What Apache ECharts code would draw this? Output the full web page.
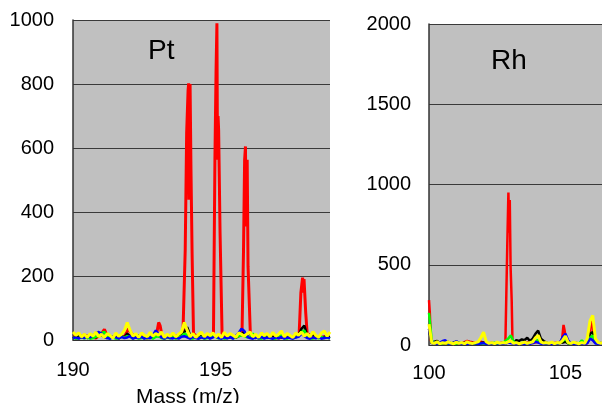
<!DOCTYPE html>
<html>
<head>
<meta charset="utf-8">
<script src="https://cdn.jsdelivr.net/npm/echarts@6/dist/echarts.min.js"></script>
<style>html,body{margin:0;padding:0;background:#fff}#c{width:602px;height:403px}</style>
</head>
<body>
<div id="c"></div>
<script>
// ---------- Pt panel data ----------
var ptMass = [190.0,190.1,190.2,190.3,190.4,190.5,190.6,190.7,190.8,190.9,
  191.0,191.1,191.2,191.3,191.4,191.5,191.6,191.7,191.8,191.9,
  192.0,192.1,192.2,192.3,192.4,192.5,192.6,192.7,192.8,192.9,
  193.0,193.1,193.2,193.3,193.4,193.5,193.6,193.7,193.8,193.9,
  194.0,194.1,194.2,194.3,194.4,194.5,194.6,194.7,194.8,194.9,
  195.0,195.1,195.2,195.3,195.4,195.5,195.6,195.7,195.8,195.9,
  196.0,196.1,196.2,196.3,196.4,196.5,196.6,196.7,196.8,196.9,
  197.0,197.1,197.2,197.3,197.4,197.5,197.6,197.7,197.8,197.9,
  198.0,198.1,198.2,198.3,198.4,198.5,198.6,198.7,198.8,198.9,
  199.0];
var ptYellow = [25,15,22,10,18,8,20,12,25,10,
  18,8,20,14,6,22,12,18,30,55,
  30,12,20,8,22,15,10,24,12,20,
  15,25,8,18,12,22,10,18,25,55,
  30,10,20,8,18,24,10,20,14,22,
  10,18,8,24,12,20,15,8,22,18,
  12,20,25,10,18,8,22,14,20,10,
  24,12,18,28,10,20,14,8,22,15,
  25,12,20,10,26,15,8,22,28,12,
  25];
var ptBlack = [10,5,12,8,15,6,10,14,8,12,
  15,10,6,12,8,10,5,12,8,20,
  12,6,10,14,8,6,12,8,10,15,
  12,8,6,10,14,8,6,10,15,25,
  40,15,8,10,6,12,8,10,6,12,
  10,8,12,6,10,8,12,6,14,20,
  25,12,8,10,6,12,8,10,14,8,
  10,6,12,8,10,6,12,8,10,15,
  35,45,15,10,20,8,12,6,10,8,
  10];
var ptBlue = [5,8,4,10,6,12,8,15,22,25,
  20,10,6,4,12,8,5,10,6,8,
  12,4,8,6,10,4,8,5,15,30,
  18,8,4,10,6,5,8,4,10,12,
  8,4,10,6,4,8,5,10,4,8,
  12,6,4,8,5,10,4,12,22,35,
  28,10,6,4,8,5,10,4,8,6,
  4,8,5,10,4,8,6,4,8,10,
  20,12,6,4,8,5,10,4,6,8,
  5];
var ptGreen = [8,4,6,10,5,8,4,6,10,15,
  22,25,10,5,8,4,6,10,8,12,
  10,5,8,4,6,10,5,8,4,10,
  12,6,4,8,5,10,4,8,12,20,
  15,6,4,8,5,10,4,6,8,12,
  10,5,8,4,6,10,5,8,12,15,
  12,8,10,20,8,5,4,10,6,8,
  5,4,8,15,6,4,10,5,8,15,
  25,30,10,6,4,8,5,10,6,8,
  4];
var ptRed = [[190.0,12],[190.2,8],[190.4,15],[190.6,10],[190.8,6],[191.0,20],[191.1,33],[191.2,12],[191.4,8],[191.6,14],[191.8,10],[191.95,35],[192.05,20],[192.2,8],[192.4,12],[192.6,6],[192.8,10],[192.92,15],[193.0,55],[193.05,45],[193.12,12],[193.3,8],[193.5,12],[193.7,15],
  [193.85,20],[193.88,25],[193.93,282],[193.98,647],[194.03,780],[194.05,802],[194.06,438],[194.08,700],[194.10,800],[194.13,542],[194.17,273],[194.22,20],
  [194.4,8],[194.6,12],[194.8,10],[194.88,15],
  [194.92,25],[194.97,563],[195.01,844],[195.04,990],[195.06,563],[195.08,700],[195.10,656],[195.15,335],[195.22,20],
  [195.4,10],[195.6,8],[195.8,12],[195.88,15],
  [195.92,25],[195.97,273],[196.01,563],[196.04,605],[196.06,355],[196.08,480],[196.10,563],[196.13,230],[196.21,20],
  [196.4,10],[196.6,8],[196.8,12],[197.0,10],[197.2,6],[197.4,12],[197.6,8],[197.8,10],
  [197.92,20],[197.98,148],[198.04,195],[198.07,148],[198.09,190],[198.15,85],[198.2,20],
  [198.4,12],[198.6,8],[198.8,10],[199.0,8]];

// ---------- Rh panel data ----------
var rhMass = [100.0,100.1,100.2,100.3,100.4,100.5,100.6,100.7,100.8,100.9,
  101.0,101.1,101.2,101.3,101.4,101.5,101.6,101.7,101.8,101.9,
  102.0,102.1,102.2,102.3,102.4,102.5,102.6,102.7,102.8,102.9,
  103.0,103.1,103.2,103.3,103.4,103.5,103.6,103.7,103.8,103.9,
  104.0,104.1,104.2,104.3,104.4,104.5,104.6,104.7,104.8,104.9,
  105.0,105.1,105.2,105.3,105.4,105.5,105.6,105.7,105.8,105.9,
  106.0,106.1,106.2,106.3,106.4,106.5];
var rhYellow = [130,15,10,20,8,15,10,20,12,8,
  18,10,15,8,20,12,10,15,20,45,
  80,20,10,15,8,18,10,15,12,20,
  25,10,15,8,12,18,10,15,20,45,
  60,20,12,15,10,18,8,15,12,30,
  55,15,10,18,12,8,15,10,40,150,
  185,40,15,10,18,12];
var rhBlack = [100,10,20,25,10,15,8,20,10,15,
  12,8,10,15,8,10,12,8,10,12,
  15,8,10,12,8,10,8,12,10,20,
  15,12,30,25,35,30,45,25,40,70,
  90,40,25,15,10,12,8,10,12,15,
  20,10,8,12,10,8,12,10,20,70,
  80,20,10,12,8,10];
var rhBlue = [100,20,10,8,15,25,30,10,8,12,
  25,10,8,12,6,10,8,12,6,10,
  12,8,6,10,8,12,6,10,8,15,
  12,8,6,10,8,6,10,8,12,20,
  15,8,6,10,8,6,10,8,15,50,
  70,30,10,8,6,10,8,6,10,40,
  30,10,8,6,10,8];
var rhGreen = [200,30,10,12,8,10,15,8,10,12,
  8,15,10,8,12,10,8,10,12,8,
  10,12,8,10,15,8,10,12,25,40,
  60,20,10,8,12,10,8,12,15,25,
  30,12,8,10,8,12,10,8,15,25,
  40,12,8,10,12,8,30,10,20,45,
  60,15,10,8,12,10];
var rhRed = [[100.0,280],[100.03,200],[100.07,25],[100.2,15],[100.4,10],[100.6,12],[100.8,8],[101.0,15],[101.2,10],[101.4,25],[101.5,20],[101.7,12],[101.9,20],[102.1,10],[102.3,12],[102.5,8],[102.7,15],
  [102.80,15],[102.83,20],[102.87,634],[102.91,950],[102.94,700],[102.96,904],[102.99,488],[103.03,280],[103.06,15],
  [103.2,12],[103.4,10],[103.6,15],[103.8,12],[104.0,20],[104.2,10],[104.4,8],[104.6,12],[104.8,15],[104.88,40],[104.93,125],[104.97,90],[105.03,20],[105.2,10],[105.4,12],[105.6,8],[105.8,12],[105.88,40],[105.93,120],[105.96,170],[106.0,140],[106.05,20],[106.2,10],[106.4,12],[106.5,8]];

var ptXTicks = [190, 195];
var rhXTicks = [100, 105];

function zip(xs, ys) { return xs.map(function (x, i) { return [x, ys[i]]; }); }

var FONT = "'Liberation Sans', Arial, sans-serif";
var colors = { red: '#ff0000', black: '#000000', green: '#00ff00', blue: '#0000ff', yellow: '#ffff00' };

function mk(name, data, color, gi, w) {
  return {
    name: name, type: 'line', xAxisIndex: gi, yAxisIndex: gi, data: data,
    showSymbol: false, symbol: 'none', animation: false,
    lineStyle: { color: color, width: w }, itemStyle: { color: color }
  };
}

var chart = echarts.init(document.getElementById('c'), null, { renderer: 'canvas' });
var axisLabelStyle = { color: '#000', fontFamily: FONT, fontSize: 20 };
function plain(v) { return String(v); }

chart.setOption({
  animation: false,
  backgroundColor: '#ffffff',
  title: [
    { text: 'Pt', left: 143, top: 32, textStyle: { fontFamily: FONT, fontSize: 28, fontWeight: 'normal', color: '#000' } },
    { text: 'Rh', left: 486, top: 42, textStyle: { fontFamily: FONT, fontSize: 28, fontWeight: 'normal', color: '#000' } },
    { text: 'Mass (m/z)', left: 131, top: 382, textStyle: { fontFamily: FONT, fontSize: 21, fontWeight: 'normal', color: '#000' } }
  ],
  grid: [
    { left: 73, top: 20, width: 257, height: 320, show: true, backgroundColor: '#c0c0c0', borderWidth: 0 },
    { left: 429, top: 24, width: 173, height: 321, show: true, backgroundColor: '#c0c0c0', borderWidth: 0 }
  ],
  xAxis: [
    { gridIndex: 0, type: 'value', min: 190, max: 199, interval: 5,
      axisLine: { show: true, lineStyle: { color: '#333', width: 1 } }, axisTick: { show: false },
      splitLine: { show: false },
      axisLabel: Object.assign({ margin: 20, showMaxLabel: false,
        formatter: function (v) { return ptXTicks.indexOf(v) >= 0 ? String(v) : ''; } }, axisLabelStyle) },
    { gridIndex: 1, type: 'value', min: 100, max: 106.34, interval: 5,
      axisLine: { show: true, lineStyle: { color: '#333', width: 1 } }, axisTick: { show: false },
      splitLine: { show: false },
      axisLabel: Object.assign({ margin: 18, showMaxLabel: false,
        formatter: function (v) { return rhXTicks.indexOf(v) >= 0 ? String(v) : ''; } }, axisLabelStyle) }
  ],
  yAxis: [
    { gridIndex: 0, type: 'value', min: 0, max: 1000, interval: 200,
      axisLine: { show: true, lineStyle: { color: '#333', width: 1.5 } }, axisTick: { show: false },
      splitLine: { show: true, lineStyle: { color: '#3a3a3a', width: 1 } },
      axisLabel: Object.assign({ margin: 19, formatter: plain }, axisLabelStyle) },
    { gridIndex: 1, type: 'value', min: 0, max: 2000, interval: 500,
      axisLine: { show: true, lineStyle: { color: '#333', width: 1.5 } }, axisTick: { show: false },
      splitLine: { show: true, lineStyle: { color: '#3a3a3a', width: 1 } },
      axisLabel: Object.assign({ margin: 18, formatter: plain }, axisLabelStyle) }
  ],
  series: [
    mk('Pt red', ptRed, colors.red, 0, 3),
    mk('Pt black', zip(ptMass, ptBlack), colors.black, 0, 2.5),
    mk('Pt green', zip(ptMass, ptGreen), colors.green, 0, 2.5),
    mk('Pt blue', zip(ptMass, ptBlue), colors.blue, 0, 2.5),
    mk('Pt yellow', zip(ptMass, ptYellow), colors.yellow, 0, 3),
    mk('Rh red', rhRed, colors.red, 1, 2.5),
    mk('Rh black', zip(rhMass, rhBlack), colors.black, 1, 2.5),
    mk('Rh green', zip(rhMass, rhGreen), colors.green, 1, 2.5),
    mk('Rh blue', zip(rhMass, rhBlue), colors.blue, 1, 2.5),
    mk('Rh yellow', zip(rhMass, rhYellow), colors.yellow, 1, 3)
  ]
});
</script>
</body>
</html>
